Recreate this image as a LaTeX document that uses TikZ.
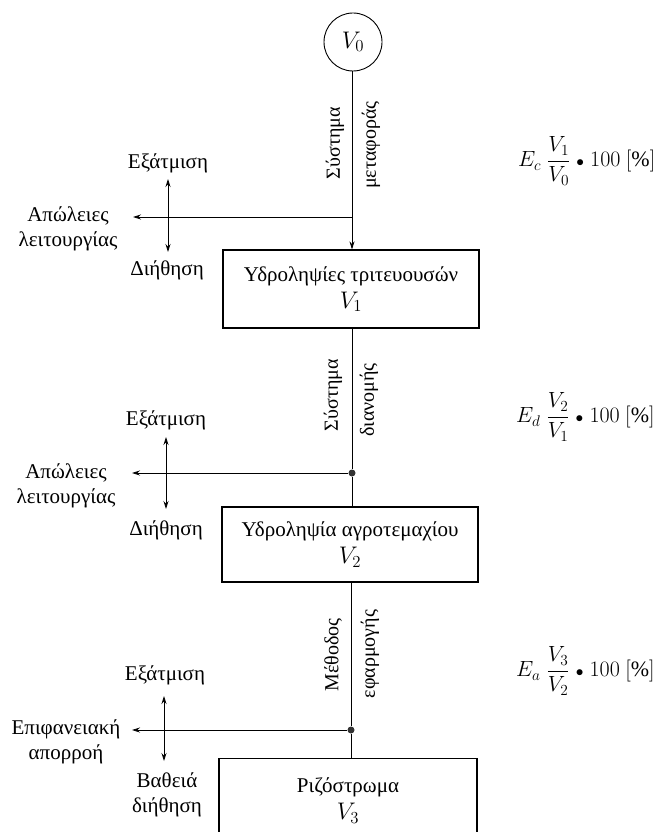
\RequirePackage{fix-cm}
\documentclass[tikz,border=0pt]{standalone}
\usepackage{amsmath}
\usepackage{fontspec}
\setmainfont{Liberation Serif}
\usetikzlibrary{arrows.meta}
\newcommand{\bigV}[1]{{\fontsize{24}{27}\selectfont$V_{#1}$}}
\begin{document}
\begin{tikzpicture}[x=1pt,y=-1pt,
  every node/.style={font=\fontsize{21}{27}\selectfont, inner sep=0pt},
  box/.style={draw, line width=1.1pt, align=center, minimum width=256pt},
  lbl/.style={align=center, font=\fontsize{21}{25}\selectfont},
  vtxt/.style={rotate=90, font=\fontsize{20}{24}\selectfont},
  frm/.style={anchor=west, font=\fontsize{22}{26}\selectfont},
  ln/.style={line width=0.8pt},
  arr/.style={ln, -{Stealth[length=8pt,width=5pt]}},
  dbl/.style={ln, {Stealth[length=8pt,width=5pt]}-{Stealth[length=8pt,width=5pt]}},
  jdot/.style={circle, fill=black!80, minimum size=7pt, inner sep=0pt}
]
\useasboundingbox (0,0) rectangle (670,832);
\clip (0,0) rectangle (670,832);
\fill[white] (0,0) rectangle (670,832);

% source
\node[circle, draw, line width=0.9pt, minimum size=58pt] (v0) at (353,42) {\bigV{0}};

% boxes
\node[box, minimum height=78pt] (b1) at (351,289) {Υδροληψίες τριτευουσών\\\bigV{1}};
\node[box, minimum height=75pt] (b2) at (350,544.5) {Υδροληψία αγροτεμαχίου\\\bigV{2}};
\node[box, minimum width=258pt, minimum height=84pt, anchor=north] (b3) at (348,758) {Ριζόστρωμα\\\bigV{3}};

% junctions
\coordinate (j1) at (352,217);
\node[jdot] (j2) at (352,473) {};
\node[jdot] (j3) at (351,730) {};

% main line
\draw[arr] (v0.south -| j1) -- (b1.north -| j1);
\draw[ln] (b1.south -| j2) -- (j2);
\draw[ln] (j2) -- (b2.north -| j2);
\draw[ln] (b2.south -| j3) -- (j3);
\draw[ln] (j3) -- (b3.north -| j3);

% line labels
\node[vtxt] (s1) at (335,143) {Σύστημα};
\node[vtxt] (m1) at (371,145) {μεταφοράς};
\node[vtxt] (s2) at (333,395) {Σύστημα};
\node[vtxt] (m2) at (369,400) {διανομής};
\node[vtxt] (s3) at (333,655) {Μέθοδος};
\node[vtxt] (m3) at (370,654) {εφαρμογής};

% group 1
\coordinate (t1) at (133,217);
\coordinate (u1) at (168,179);
\coordinate (d1) at (168,252);
\draw[arr] (j1) -- (t1);
\draw[dbl] (u1) -- (d1);
\node[lbl] (ex1) at (168,163) {Εξάτμιση};
\node[lbl] (ap1) at (68,229) {Απώλειες\\λειτουργίας};
\node[lbl] (di1) at (167,270) {Διήθηση};

% group 2
\coordinate (t2) at (132,473);
\coordinate (u2) at (166,437);
\coordinate (d2) at (166,509);
\draw[arr] (j2) -- (t2);
\draw[dbl] (u2) -- (d2);
\node[lbl] (ex2) at (166,420) {Εξάτμιση};
\node[lbl] (ap2) at (66,486) {Απώλειες\\λειτουργίας};
\node[lbl] (di2) at (166,530) {Διήθηση};

% group 3
\coordinate (t3) at (132,730);
\coordinate (u3) at (164,696);
\coordinate (d3) at (164,761);
\draw[arr] (j3) -- (t3);
\draw[dbl] (u3) -- (d3);
\node[lbl] (ex3) at (165,675) {Εξάτμιση};
\node[lbl] (ep3) at (66,742) {Επιφανειακή\\απορροή};
\node[lbl] (ba3) at (167,795) {Βαθειά\\διήθηση};

% efficiencies
\node[frm] (f1) at (518,161) {$E_c\;\dfrac{V_1}{V_0}\;{\scriptstyle\bullet}\;100\ [\%]$};
\node[frm] (f2) at (516,417) {$E_d\;\dfrac{V_2}{V_1}\;{\scriptstyle\bullet}\;100\ [\%]$};
\node[frm] (f3) at (516,671) {$E_a\;\dfrac{V_3}{V_2}\;{\scriptstyle\bullet}\;100\ [\%]$};
\end{tikzpicture}
\end{document}
